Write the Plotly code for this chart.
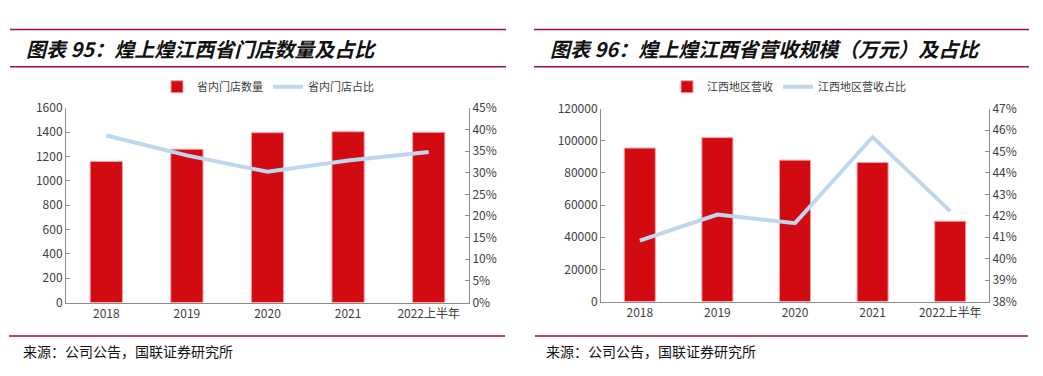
import plotly.graph_objects as go

W, H = 1043, 376

categories = ["2018", "2019", "2020", "2021", "2022上半年"]

# Left chart: stores in province
store_count = [1159, 1259, 1395, 1403, 1398]
store_share = [38.6, 34.0, 30.2, 32.8, 34.8]

# Right chart: Jiangxi revenue (10k yuan)
revenue = [95500, 102000, 88000, 86500, 50000]
revenue_share = [40.84, 42.06, 41.66, 45.68, 42.22]

title_left = "图表 95：煌上煌江西省门店数量及占比"
title_right = "图表 96：煌上煌江西省营收规模（万元）及占比"
source_text = "来源：公司公告，国联证券研究所"

left_ticks = [0, 200, 400, 600, 800, 1000, 1200, 1400, 1600]
left_pct_ticks = [0, 5, 10, 15, 20, 25, 30, 35, 40, 45]
right_ticks = [0, 20000, 40000, 60000, 80000, 100000, 120000]
right_pct_ticks = [38, 39, 40, 41, 42, 43, 44, 45, 46, 47]

RED = "#D20A11"
BLUE = "#BDD7EE"
DARKRED = "#A50F2D"
AX = "#8C8C8C"
TXT = "#404040"
FONT = "Noto Sans CJK SC"

def px(x):
    return x / W

def py(y):
    return 1 - y / H

fig = go.Figure()

fig.add_trace(go.Bar(x=categories, y=store_count, name="省内门店数量",
                     marker=dict(color=RED, line=dict(color="#F4A0A4", width=1)),
                     width=0.4, xaxis="x", yaxis="y", legend="legend"))
fig.add_trace(go.Scatter(x=categories, y=store_share, name="省内门店占比", mode="lines",
                         line=dict(color=BLUE, width=4), xaxis="x", yaxis="y2",
                         legend="legend"))
fig.add_trace(go.Bar(x=categories, y=revenue, name="江西地区营收",
                     marker=dict(color=RED, line=dict(color="#F4A0A4", width=1)),
                     width=0.4, xaxis="x2", yaxis="y3", legend="legend2"))
fig.add_trace(go.Scatter(x=categories, y=revenue_share, name="江西地区营收占比", mode="lines",
                         line=dict(color=BLUE, width=4), xaxis="x2", yaxis="y4",
                         legend="legend2"))

tickfont = dict(family=FONT, size=12, color=TXT)

common_x = dict(showline=True, linecolor=AX, linewidth=1, ticks="", showgrid=False,
                tickfont=tickfont, type="category", fixedrange=True)
common_y = dict(showline=True, linecolor=AX, linewidth=1, ticks="inside", ticklen=4,
                tickcolor=AX, showgrid=False, zeroline=False, tickfont=tickfont)

def pct(vals):
    return [f"{v}%" for v in vals]

def num(vals):
    return [str(v) for v in vals]

fig.update_layout(
    width=W, height=H,
    margin=dict(l=0, r=0, t=0, b=0),
    paper_bgcolor="white", plot_bgcolor="white",
    showlegend=True,
    bargap=0.6,
    xaxis=dict(domain=[px(58), px(461)], anchor="y", **common_x),
    yaxis=dict(domain=[py(298), py(94)], range=[0, 1600], tickmode="array",
               tickvals=left_ticks, ticktext=num(left_ticks), anchor="x", **common_y),
    yaxis2=dict(overlaying="y", side="right", anchor="x", range=[0, 45], tickmode="array",
                tickvals=left_pct_ticks, ticktext=pct(left_pct_ticks), **common_y),
    xaxis2=dict(domain=[px(593), px(981)], anchor="y3", **common_x),
    yaxis3=dict(domain=[py(297), py(95)], range=[0, 120000], tickmode="array",
                tickvals=right_ticks, ticktext=num(right_ticks), anchor="x2", **common_y),
    yaxis4=dict(overlaying="y3", side="right", anchor="x2", range=[38, 47], tickmode="array",
                tickvals=right_pct_ticks, ticktext=pct(right_pct_ticks), **common_y),
    legend=dict(orientation="h", x=px(260), xanchor="center", y=py(72), yanchor="middle",
                font=dict(family=FONT, size=11, color=TXT), bgcolor="rgba(0,0,0,0)",
                traceorder="normal", itemwidth=30),
    legend2=dict(orientation="h", x=px(781), xanchor="center", y=py(72), yanchor="middle",
                 font=dict(family=FONT, size=11, color=TXT), bgcolor="rgba(0,0,0,0)",
                 traceorder="normal", itemwidth=30),
)

shapes = []
for (x0, x1) in [(2, 498), (526, 1021)]:
    for yy in (12, 51):
        shapes.append(dict(type="line", xref="paper", yref="paper",
                           x0=px(x0), x1=px(x1), y0=py(yy), y1=py(yy),
                           line=dict(color=DARKRED, width=1.5)))
for (x0, x1) in [(1, 497), (527, 1020)]:
    shapes.append(dict(type="line", xref="paper", yref="paper",
                       x0=px(x0), x1=px(x1), y0=py(333), y1=py(333),
                       line=dict(color=DARKRED, width=1.5)))
fig.update_layout(shapes=shapes)

annotations = [
    dict(text="<i>" + title_left + "</i>", x=px(16), y=py(32), xref="paper", yref="paper",
         xanchor="left", yanchor="middle", showarrow=False,
         font=dict(family=FONT, size=20, color="#111111", weight=600)),
    dict(text="<i>" + title_right + "</i>", x=px(540), y=py(32), xref="paper", yref="paper",
         xanchor="left", yanchor="middle", showarrow=False,
         font=dict(family=FONT, size=20, color="#111111", weight=600)),
    dict(text=source_text, x=px(13), y=py(349), xref="paper", yref="paper",
         xanchor="left", yanchor="middle", showarrow=False,
         font=dict(family=FONT, size=14, color="#111111")),
    dict(text=source_text, x=px(536), y=py(349), xref="paper", yref="paper",
         xanchor="left", yanchor="middle", showarrow=False,
         font=dict(family=FONT, size=14, color="#111111")),
]
fig.update_layout(annotations=annotations)

fig.write_html("out.html")
